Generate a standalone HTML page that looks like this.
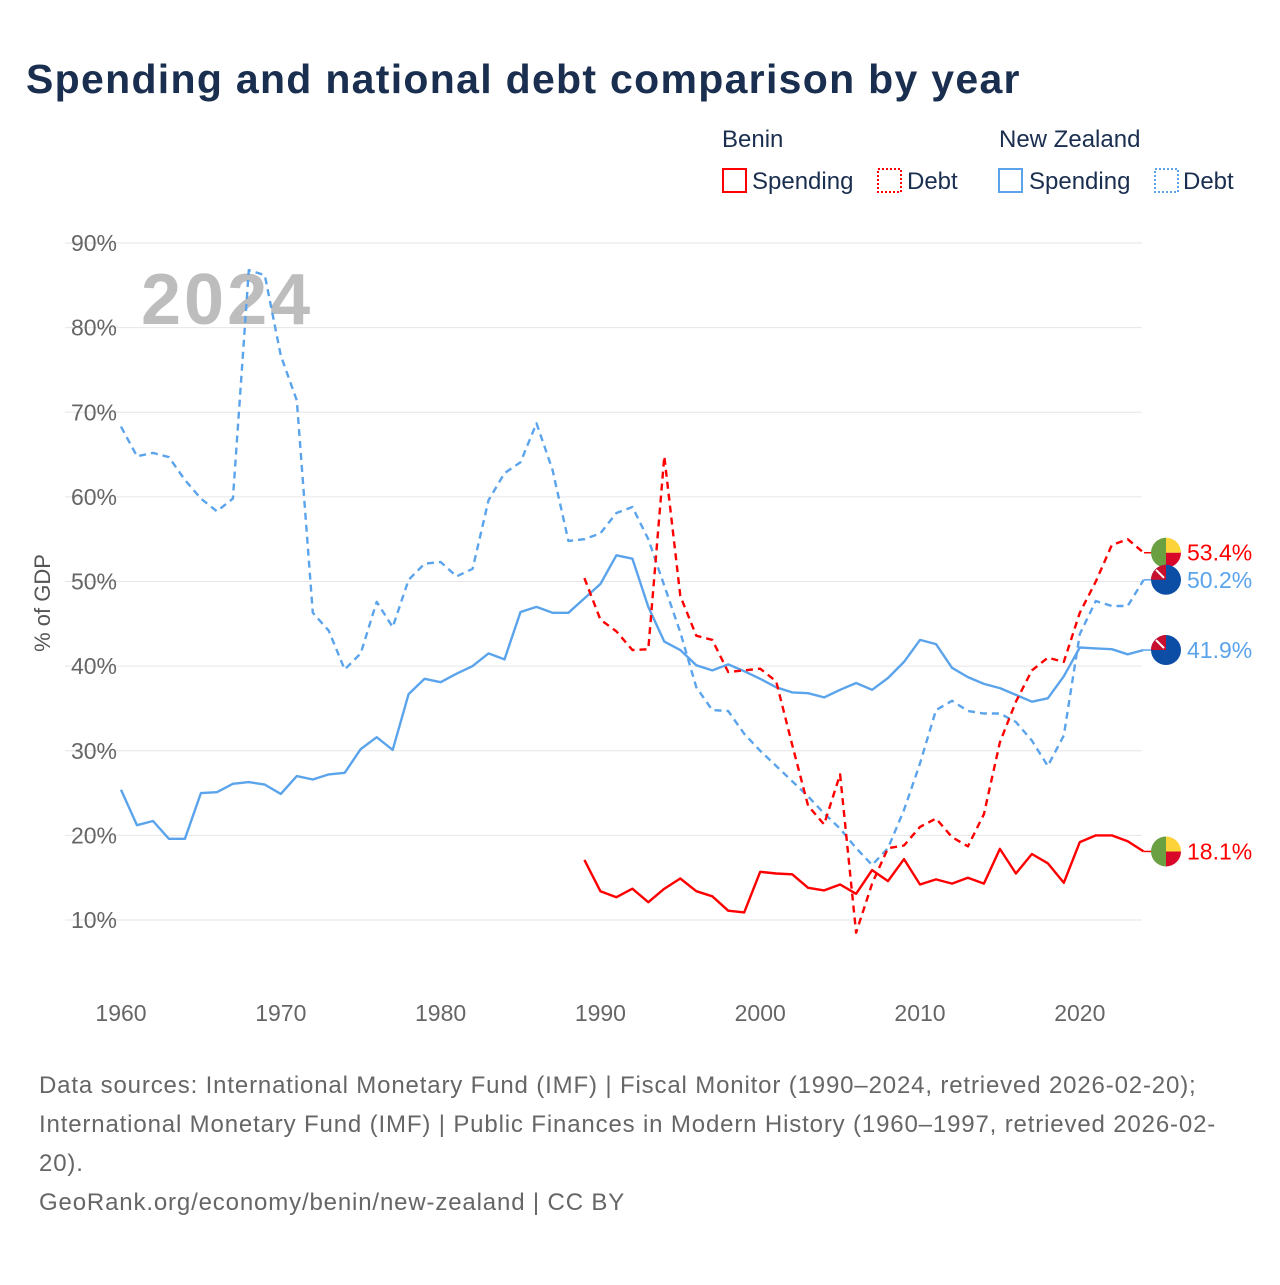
<!DOCTYPE html>
<html><head><meta charset="utf-8">
<style>
body{margin:0;background:#fff;width:1280px;height:1280px;overflow:hidden;font-family:"Liberation Sans",sans-serif;}
svg text{font-family:"Liberation Sans",sans-serif;}
</style></head>
<body>
<svg id="chart" width="1280" height="1280" xmlns="http://www.w3.org/2000/svg">
<text x="26" y="93" font-size="41" font-weight="bold" fill="#1a2e4f" letter-spacing="1.3">Spending and national debt comparison by year</text>
<g fill="#1a2e4f" font-size="24">
<text x="722" y="147">Benin</text>
<text x="999" y="147">New Zealand</text>
<g><rect x="723" y="169" width="23" height="23" fill="none" stroke="#ff0000" stroke-width="2"/><text x="752" y="189">Spending</text></g>
<g><rect x="878" y="169" width="23" height="23" fill="none" stroke="#ff0000" stroke-width="2" stroke-dasharray="2,2"/><text x="907" y="189">Debt</text></g>
<g><rect x="999" y="169" width="23" height="23" fill="none" stroke="#5ba4ec" stroke-width="2"/><text x="1029" y="189">Spending</text></g>
<g><rect x="1155" y="169" width="23" height="23" fill="none" stroke="#5ba4ec" stroke-width="2" stroke-dasharray="2,2"/><text x="1183" y="189">Debt</text></g>
</g>
<g id="grid"></g>
<text x="141" y="324" font-size="72" font-weight="bold" fill="#bdbdbd" letter-spacing="3">2024</text>
<text transform="translate(50,603) rotate(-90)" text-anchor="middle" font-size="22" fill="#555">% of GDP</text>
<g id="series"></g>
<g id="ends"></g>
<g font-size="24" fill="#666" letter-spacing="0.85">
<text x="39" y="1093">Data sources: International Monetary Fund (IMF) | Fiscal Monitor (1990–2024, retrieved 2026-02-20);</text>
<text x="39" y="1132">International Monetary Fund (IMF) | Public Finances in Modern History (1960–1997, retrieved 2026-02-</text>
<text x="39" y="1171">20).</text>
<text x="39" y="1210">GeoRank.org/economy/benin/new-zealand | CC BY</text>
</g>
</svg>
<script>
const yTicks=[10,20,30,40,50,60,70,80,90];
const xTicks=[1960,1970,1980,1990,2000,2010,2020];
const nzYears0=1960;
const nzDebt=[68.3,64.8,65.2,64.7,62,59.8,58.3,59.8,86.8,86.2,76.7,71.4,46.3,44.2,39.6,41.5,47.6,44.6,50.2,52.1,52.3,50.6,51.5,59.6,62.8,64.1,68.7,63.2,54.8,55,55.7,58.1,58.8,55,49.5,44,37.5,34.8,34.7,32,30,28.2,26.4,24.6,22.6,20.8,18.5,16.5,18.5,23,28.5,34.8,35.9,34.7,34.4,34.4,33.4,31.2,28.2,31.8,43.8,47.7,47.1,47.1,50.2];
const nzSpending=[25.4,21.2,21.7,19.6,19.6,25,25.1,26.1,26.3,26,24.9,27,26.6,27.2,27.4,30.2,31.6,30.1,36.7,38.5,38.1,39.1,40,41.5,40.8,46.4,47,46.3,46.3,48,49.7,53.1,52.7,47,42.9,41.9,40.1,39.5,40.2,39.4,38.5,37.5,36.9,36.8,36.3,37.2,38,37.2,38.6,40.5,43.1,42.6,39.8,38.7,37.9,37.4,36.6,35.8,36.2,38.8,42.2,42.1,42,41.4,41.9];
const bjYears0=1989;
const bjDebt=[50.4,45.5,44.1,41.9,42,64.8,48.3,43.6,43.1,39.3,39.5,39.7,38.2,30.7,23.5,21.3,27.2,8.5,14.3,18.5,18.8,21,22,19.8,18.7,22.5,31,35.8,39.5,41,40.5,46.3,50,54.3,55,53.4];
const bjSpending=[17.1,13.4,12.7,13.7,12.1,13.7,14.9,13.4,12.8,11.1,10.9,15.7,15.5,15.4,13.8,13.5,14.2,13.1,15.9,14.6,17.2,14.2,14.8,14.3,15,14.3,18.4,15.5,17.8,16.7,14.4,19.2,20,20,19.3,18.1];

const NS="http://www.w3.org/2000/svg";
const X=yr=>121+(yr-1960)*15.98;
const Y=v=>920-(v-10)*8.4625;
function mk(tag,attrs,parent){const e=document.createElementNS(NS,tag);for(const k in attrs)e.setAttribute(k,attrs[k]);parent.appendChild(e);return e;}
const grid=document.getElementById('grid');
yTicks.forEach(t=>{
  const l=mk('line',{x1:65,x2:1142,y1:Y(t),y2:Y(t),stroke:'#e6e6e6','stroke-width':1},grid);
  
  
  const tx=mk('text',{x:117,y:Y(t)+8,'text-anchor':'end','font-size':23,fill:'#666'},grid);
  tx.textContent=t+'%';
  
  
});
xTicks.forEach(t=>{
  const tx=mk('text',{x:X(t),y:1021,'text-anchor':'middle','font-size':23,fill:'#666'},grid);
  tx.textContent=t;
  
  
});
const series=document.getElementById('series');
function line(arr,y0,color,dash,name){
  const pts=arr.map((v,i)=>X(y0+i).toFixed(1)+','+Y(v).toFixed(1)).join(' ');
  const p=mk('polyline',{points:pts,fill:'none',stroke:color,'stroke-width':2.4,'stroke-linejoin':'round'},series);
  if(dash)p.setAttribute('stroke-dasharray','7,5');
  
  
}
line(nzDebt,nzYears0,'#5ba4ec',true,'nz-debt-line');
line(nzSpending,nzYears0,'#5ba4ec',false,'nz-spending-line');
line(bjDebt,bjYears0,'#ff0000',true,'benin-debt-line');
line(bjSpending,bjYears0,'#ff0000',false,'benin-spending-line');

const ends=document.getElementById('ends');
function endLabel(arr,color,flag,name){
  const v=arr[arr.length-1];const y=Y(v);
  mk('line',{x1:1144,x2:1154,y1:y,y2:y,stroke:color,'stroke-width':1.5},ends);
  const g=mk('g',{},ends);
  
  
  const cx=1166;
  if(flag==='bj'){
    mk('path',{d:`M${cx},${y-15} A15,15 0 0 0 ${cx},${y+15} Z`,fill:'#6ba042'},g);
    mk('path',{d:`M${cx},${y-15} A15,15 0 0 1 ${cx+15},${y} L${cx},${y} Z`,fill:'#fcd43a'},g);
    mk('path',{d:`M${cx+15},${y} A15,15 0 0 1 ${cx},${y+15} L${cx},${y} Z`,fill:'#d8072a'},g);
  }else{
    mk('circle',{cx:cx,cy:y,r:15,fill:'#0c4ea6'},g);
    mk('path',{d:`M${cx-15},${y} A15,15 0 0 1 ${cx},${y-15} L${cx},${y} Z`,fill:'#c8102e'},g);
    mk('path',{d:`M${cx-10},${y-10} L${cx-2},${y-2}`,stroke:'#fff','stroke-width':2},g);
  }
  const t=mk('text',{x:1187,y:y+8,'font-size':23,fill:color},g);
  t.textContent=v.toFixed(1)+'%';
}
endLabel(bjDebt,'#ff0000','bj','end-label-benin-debt');
endLabel(nzDebt,'#5ba4ec','nz','end-label-nz-debt');
endLabel(nzSpending,'#5ba4ec','nz','end-label-nz-spending');
endLabel(bjSpending,'#ff0000','bj','end-label-benin-spending');
</script>
</body></html>
